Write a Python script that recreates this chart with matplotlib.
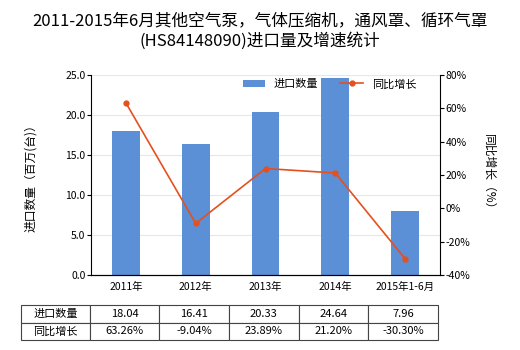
import numpy as np
import matplotlib
matplotlib.use("Agg")
from matplotlib import pyplot as plt

plt.rcParams['font.family'] = ['Noto Sans CJK SC', 'DejaVu Sans']

categories = ['2011年', '2012年', '2013年', '2014年', '2015年1-6月']
quantity = [18.04, 16.41, 20.33, 24.64, 7.96]
growth = [63.26, -9.04, 23.89, 21.20, -30.30]
quantity_labels = ['18.04', '16.41', '20.33', '24.64', '7.96']
growth_labels = ['63.26%', '-9.04%', '23.89%', '21.20%', '-30.30%']

bar_color = '#5B8FD6'
line_color = '#E5501E'

fig = plt.figure(figsize=(5.2, 3.5), dpi=100)
ax = fig.add_axes([91/520, 1 - 275/350, (440-91)/520, 200/350])
x = np.arange(len(categories))

ax.bar(x, quantity, width=0.4, color=bar_color, label='进口数量', zorder=2)
ax.set_xlim(-0.5, len(categories) - 0.5)
ax.set_ylim(0, 25)
ax.set_yticks(np.arange(0, 25.1, 5))
ax.set_yticklabels(['%.1f' % v for v in np.arange(0, 25.1, 5)], fontsize=7.5)
ax.set_xticks(x)
ax.set_xticklabels(categories, fontsize=7.5)
ax.grid(axis='y', color='#E8E8E0', linewidth=0.8, zorder=0)
ax.tick_params(axis='y', length=3, pad=1)
ax.tick_params(axis='x', length=0, pad=5)
ax.spines['top'].set_visible(False)
ax.spines['right'].set_visible(False)
ax.set_ylabel('进口数量（百万(台)）', fontsize=8.5, labelpad=20)

ax2 = ax.twinx()
ax2.plot(x, growth, color=line_color, linewidth=1.2, marker='o', markersize=3.5, label='同比增长', zorder=3)
ax2.set_ylim(-40, 80)
ax2.set_yticks(np.arange(-40, 81, 20))
ax2.set_yticklabels(['%d%%' % v for v in np.arange(-40, 81, 20)], fontsize=7.5)
ax2.tick_params(axis='y', length=3, pad=1)
ax2.spines['top'].set_visible(False)
ax2.spines['left'].set_visible(False)
ax2.set_ylabel('同比增长（%）', fontsize=8.5, rotation=-90, labelpad=18)

h1, l1 = ax.get_legend_handles_labels()
h2, l2 = ax2.get_legend_handles_labels()
ax2.legend(h1 + h2, l1 + l2, loc='upper right', bbox_to_anchor=(0.96, 1.03), ncol=2,
           frameon=False, fontsize=8, handlelength=2.0, columnspacing=2.0)

fig.suptitle('2011-2015年6月其他空气泵，气体压缩机，通风罩、循环气罩\n(HS84148090)进口量及增速统计',
             fontsize=12, y=0.965, linespacing=1.2)

# data table under the chart
tab_ax = fig.add_axes([21/520, 1 - 340/350, (438-21)/520, 35/350])
tab_ax.axis('off')
cells = [['进口数量'] + quantity_labels, ['同比增长'] + growth_labels]
col_w = [69] + [70] * 5
table = tab_ax.table(cellText=cells, colWidths=[w / sum(col_w) for w in col_w],
                     bbox=[0, 0, 1, 1], cellLoc='center')
table.auto_set_font_size(False)
for (r, c), cell in table.get_celld().items():
    cell.set_fontsize(8)
    cell.set_edgecolor('#444444')
    cell.set_linewidth(0.8)
    if c == 0:
        cell._loc = 'left'
        cell.PAD = 0.02

fig.savefig('out.png', dpi=100)
